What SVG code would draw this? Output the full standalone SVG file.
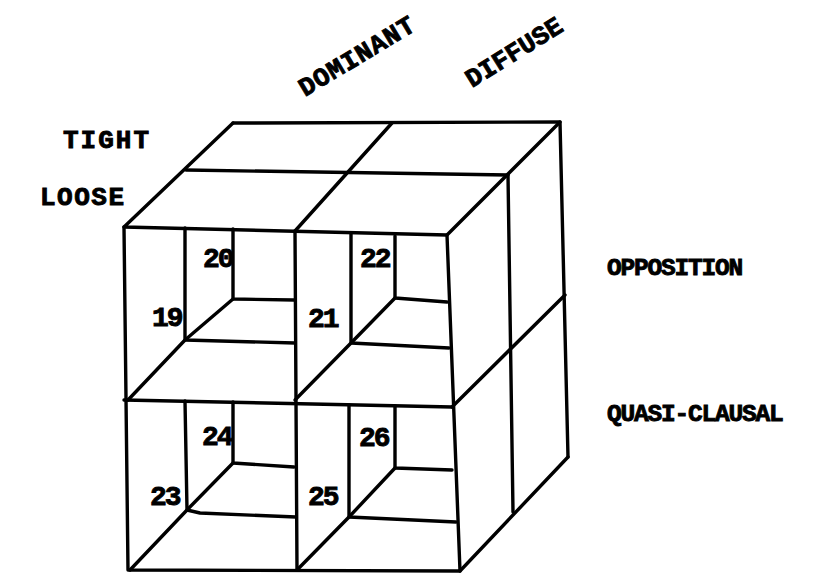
<svg xmlns="http://www.w3.org/2000/svg" width="832" height="574" viewBox="0 0 832 574">
<style>
  .ln { fill: none; stroke: #000; stroke-width: 3.4; stroke-linecap: round; stroke-linejoin: round; }
  .lbl { font-family: "Liberation Mono", "Courier New", monospace; font-weight: bold; font-size: 26px; fill: #000; stroke: #000; stroke-width: 0.9; }
  .side { font-size: 24.5px; letter-spacing: -1.2px; }
  .num { font-family: "Liberation Mono", "Courier New", monospace; font-weight: bold; font-size: 28px; letter-spacing: -2px; fill: #000; stroke: #000; stroke-width: 0.9; }
</style>
<rect width="832" height="574" fill="#fff"/>
<g id="connectors">
  <!-- top face -->
  <path class="ln" d="M233,123 L560,122 L568,457"/>
  <path class="ln" d="M233,123 L124,227 L447,235 L560,122"/>
  <path class="ln" d="M186,170 L508,175"/>
  <path class="ln" d="M392,123 L295,231"/>
  <!-- front face -->
  <path class="ln" d="M124,227 L128,570 L460,571 L447,235"/>
  <path class="ln" d="M295,231 L297,570"/>
  <path class="ln" d="M124,400 L452,407"/>
  <!-- right face -->
  <path class="ln" d="M508,175 L513,512"/>
  <path class="ln" d="M452,407 L565,295"/>
  <path class="ln" d="M460,571 L568,457"/>
</g>
<g id="cell-19-20">
  <path class="ln" d="M185,228 L185,340 L295,343"/>
  <path class="ln" d="M233,229 L233,299 L294,300"/>
  <path class="ln" d="M233,299 L185,340 L128,400"/>
  <text class="num" x="152" y="326">19</text>
  <text class="num" x="203" y="267">20</text>
</g>
<g id="cell-21-22">
  <path class="ln" d="M351,233 L351,343 L449,348"/>
  <path class="ln" d="M395,236 L395,298 L447,302"/>
  <path class="ln" d="M395,298 L351,343 L295,400"/>
  <text class="num" x="308" y="327">21</text>
  <text class="num" x="360" y="267">22</text>
</g>
<g id="cell-23-24">
  <path class="ln" d="M185,401 L187,510 L200,513 L296,517"/>
  <path class="ln" d="M233,402 L233,463 L294,467"/>
  <path class="ln" d="M233,463 L187,510 L130,570"/>
  <text class="num" x="150" y="505">23</text>
  <text class="num" x="202" y="445">24</text>
</g>
<g id="cell-25-26">
  <path class="ln" d="M349,405 L349,517 L456,522"/>
  <path class="ln" d="M395,406 L395,468 L452,470"/>
  <path class="ln" d="M395,468 L349,517 L297,570"/>
  <text class="num" x="308" y="505">25</text>
  <text class="num" x="359" y="446">26</text>
</g>
<g id="labels">
  <text class="lbl" x="63" y="148" letter-spacing="2">TIGHT</text>
  <text class="lbl" x="40" y="205" letter-spacing="1.5">LOOSE</text>
  <text class="lbl" transform="translate(305,97) rotate(-31)" letter-spacing="0.8">DOMINANT</text>
  <text class="lbl" transform="translate(472,88) rotate(-32)">DIFFUSE</text>
  <text class="lbl side" x="607" y="275">OPPOSITION</text>
  <text class="lbl side" x="607" y="421">QUASI-CLAUSAL</text>
</g>
</svg>
